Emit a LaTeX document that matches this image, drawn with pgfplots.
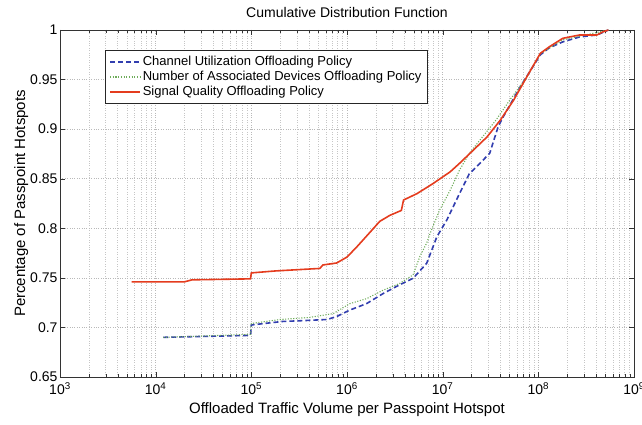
\documentclass[border=0pt]{standalone}
\usepackage{fontspec}
\setmainfont{Liberation Sans}
\usepackage{pgfplots}
\pgfplotsset{compat=1.18}
\definecolor{cblue}{RGB}{50,62,175}
\definecolor{cgreen}{RGB}{110,172,90}
\definecolor{cred}{RGB}{228,60,30}
\begin{document}
\begin{tikzpicture}
\useasboundingbox (0,0) rectangle (642pt,425pt);
\begin{axis}[
  at={(60pt,48pt)}, anchor=south west,
  scale only axis, width=574pt, height=347pt,
  xmode=log, xmin=1e3, xmax=1e9, ymin=0.65, ymax=1,
  xtick={1e3,1e4,1e5,1e6,1e7,1e8,1e9},
  xticklabels={10\textsuperscript{3},10\textsuperscript{4},10\textsuperscript{5},10\textsuperscript{6},10\textsuperscript{7},10\textsuperscript{8},10\textsuperscript{9}},
  ytick={0.65,0.7,0.75,0.8,0.85,0.9,0.95,1},
  yticklabels={0.65,0.7,0.75,0.8,0.85,0.9,0.95,1},
  ticklabel style={font=\fontsize{14}{16}\selectfont},
  xticklabel style={yshift=-2pt},
  yticklabel style={xshift=1pt},
  xmajorgrids, ymajorgrids, xminorgrids,
  major grid style={dotted, gray!55, line width=0.5pt},
  minor grid style={dotted, gray!45, line width=0.5pt},
  axis line style={gray!40!black, line width=0.8pt},
  tick style={gray!40!black},
  major tick length=5pt, minor tick length=3pt,
  title={Cumulative Distribution Function},
  title style={font=\fontsize{14}{16}\selectfont, yshift=3pt},
  xlabel={Offloaded Traffic Volume per Passpoint Hotspot},
  ylabel={Percentage of Passpoint Hotspots},
  label style={font=\fontsize{15}{17}\selectfont},
  xlabel style={yshift=-1pt},
  ylabel style={yshift=-5pt},
  legend style={at={(0.078,0.942)}, anchor=north west, draw=gray!30!black, line width=0.9pt,
    font=\fontsize{13}{16}\selectfont, inner sep=4pt},
  legend cell align=left,
]
\addplot[color=cblue, dash pattern=on 5pt off 3pt, line width=1.6pt,
  legend image code/.code={\draw[cblue, dash pattern=on 5pt off 3pt, line width=1.6pt] (0pt,0pt) -- (30pt,0pt);}] coordinates {
(1.2e4,0.690) (9.8e4,0.692) (1e5,0.7025) (2.1e5,0.706) (3.2e5,0.7067) (6.2e5,0.708)
(7.8e5,0.711) (1.07e6,0.7175) (1.6e6,0.724) (2.4e6,0.7343) (3.5e6,0.7427) (4.9e6,0.7495)
(6.8e6,0.7646) (8.7e6,0.7915) (1.1e7,0.808) (1.5e7,0.835) (1.9e7,0.855) (2.45e7,0.8655)
(3.1e7,0.8756) (3.8e7,0.9024) (4.3e7,0.9125) (6.5e7,0.943) (1.05e8,0.975) (1.3e8,0.982)
(1.8e8,0.988) (2.7e8,0.993) (4.1e8,0.995) (5.4e8,1.0)
};
\addlegendentry{Channel Utilization Offloading Policy}
\addplot[color=cgreen, dash pattern=on 1.1pt off 1.6pt, line width=1.1pt,
  legend image code/.code={\draw[cgreen, dash pattern=on 1.1pt off 1.6pt, line width=1.1pt] (0pt,0pt) -- (30pt,0pt);}] coordinates {
(1.2e4,0.690) (9.8e4,0.693) (1e5,0.704) (2e5,0.708) (4e5,0.710) (7.2e5,0.714)
(1.07e6,0.724) (1.6e6,0.729) (2.4e6,0.7377) (3.5e6,0.744) (4.9e6,0.753) (5.8e6,0.772)
(6.8e6,0.785) (7.4e6,0.795) (9.3e6,0.8184) (1.2e7,0.8385) (1.5e7,0.8587) (1.9e7,0.8756)
(2.6e7,0.892) (3.6e7,0.909) (5e7,0.929) (7.6e7,0.953) (1.05e8,0.976) (1.8e8,0.990) (5.4e8,1.0)
};
\addlegendentry{Number of Associated Devices Offloading Policy}
\addplot[color=cred, solid, line width=1.6pt,
  legend image code/.code={\draw[cred, solid, line width=1.6pt] (0pt,0pt) -- (30pt,0pt);}] coordinates {
(5.6e3,0.746) (2e4,0.746) (2.4e4,0.748) (9.8e4,0.749) (1e5,0.755) (1.8e5,0.757)
(5.2e5,0.7595) (5.6e5,0.763) (7.8e5,0.765) (1e6,0.771) (1.26e6,0.781) (1.74e6,0.796)
(2.2e6,0.807) (2.8e6,0.813) (3.7e6,0.818) (3.9e6,0.8285) (5.4e6,0.835) (7.9e6,0.845)
(1.2e7,0.857) (1.5e7,0.8655) (2.1e7,0.879) (2.9e7,0.892) (4e7,0.909) (5.5e7,0.929)
(7.6e7,0.953) (1.05e8,0.9765) (1.3e8,0.983) (1.8e8,0.9916) (2.7e8,0.995) (4.1e8,0.995)
(4.7e8,0.998) (5.4e8,1.0)
};
\addlegendentry{Signal Quality Offloading Policy}
\end{axis}
\end{tikzpicture}
\end{document}
